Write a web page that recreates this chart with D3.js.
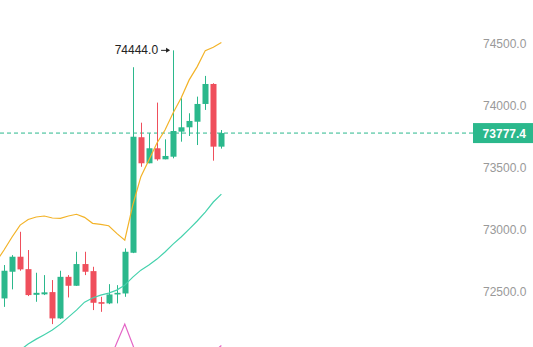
<!DOCTYPE html>
<html>
<head>
<meta charset="utf-8">
<script src="https://cdn.jsdelivr.net/npm/d3@7"></script>
<style>
    body { margin: 0; background: #fff; }
    svg { display: block; font-family: "Liberation Sans", Arial, sans-serif; }
</style>
</head>
<body>
<svg id="chart" width="533" height="347"></svg>
<script>
// first candle sits just left of the visible area
var candleIds = d3.range(0, 29).map(String);

var opens  = [72620, 72445, 72660, 72781, 72681, 72474, 72478, 72496, 72284, 72619, 72547, 72722, 72665, 72415, 72405,
              72477, 72485, 72813, 73744, 73534, 73655, 73566, 73587, 73789, 73824, 73869, 74012, 74173, 73668];
var highs  = [72680, 72714, 72794, 72982, 72835, 72652, 72633, 72593, 72668, 72633, 72821, 72821, 72700, 72458, 72560,
              72552, 72848, 74308, 73861, 73776, 74023, 73727, 74444, 74058, 73937, 74071, 74238, 74179, 73802];
var lows   = [72400, 72377, 72518, 72668, 72464, 72418, 72472, 72238, 72280, 72453, 72545, 72633, 72351, 72337, 72399,
              72405, 72458, 72810, 73506, 73534, 73555, 73566, 73574, 73708, 73754, 73681, 73964, 73555, 73652];
var closes = [72450, 72668, 72781, 72679, 72472, 72490, 72494, 72284, 72619, 72547, 72722, 72660, 72410, 72402, 72477,
              72490, 72821, 73748, 73534, 73655, 73566, 73593, 73794, 73824, 73875, 74012, 74173, 73668, 73777.4];

var upperBand = [72738, 72835, 72940, 73036, 73081, 73101, 73109, 73093, 73090, 73109, 73123, 73098, 73050, 73042, 73031,
                 72969, 72915, 73198, 73426, 73560, 73698, 73802, 73940, 74060, 74206, 74313, 74442, 74469, 74507];
var lowerBand = [71880, 71931, 71980, 72028, 72077, 72117, 72153, 72190, 72238, 72294, 72351, 72415, 72448, 72472, 72488,
                 72512, 72552, 72617, 72673, 72714, 72762, 72819, 72883, 72940, 73004, 73069, 73141, 73222, 73286];
var signal = [71720, 71700, 71760, 71820, 71750, 71690, 71740, 71800, 71860, 71790, 71720, 71780, 71840, 71880, 71931,
              72085, 72238, 72069, 71899, 71820, 71760, 71700, 71680, 71740, 71810, 71870, 71930, 72012, 72065];

var yTicks = [72500, 73000, 73500, 74000, 74500];
var lastPrice = 73777.4;
var highMark = 74444;

var upColor = "#2bb88c";
var downColor = "#ef4f5c";

var svg = d3.select("#chart");

var x = d3.scaleBand()
    .domain(candleIds)
    .range([-8.05, 225.4])
    .paddingInner(0.25)
    .paddingOuter(0.125);

var y = d3.scaleLinear()
    .domain([72500, 74500])
    .range([291.6, 43.4]);

var cx = function (d, i) { return x(candleIds[i]) + x.bandwidth() / 2; };

var candles = candleIds.map(function (id, i) {
    return { id: id, o: opens[i], h: highs[i], l: lows[i], c: closes[i] };
});

// last price dashed line
svg.append("line")
    .attr("x1", 0)
    .attr("x2", 473)
    .attr("y1", y(lastPrice))
    .attr("y2", y(lastPrice))
    .attr("stroke", upColor)
    .attr("stroke-width", 1)
    .attr("stroke-dasharray", "4,3");

// candles
var g = svg.append("g");
var candle = g.selectAll("g.candle")
    .data(candles)
    .join("g")
    .attr("class", "candle");

candle.append("line")
    .attr("x1", function (d, i) { return Math.round(cx(d, i)) + 0.5; })
    .attr("x2", function (d, i) { return Math.round(cx(d, i)) + 0.5; })
    .attr("y1", function (d) { return y(d.h); })
    .attr("y2", function (d) { return y(d.l); })
    .attr("stroke", function (d) { return d.c >= d.o ? upColor : downColor; })
    .attr("stroke-width", 1);

candle.append("rect")
    .attr("x", function (d, i) { return Math.round(cx(d, i)) + 0.5 - 3; })
    .attr("width", 6)
    .attr("y", function (d) { return y(Math.max(d.o, d.c)); })
    .attr("height", function (d) { return Math.max(1.5, Math.abs(y(d.o) - y(d.c))); })
    .attr("fill", function (d) { return d.c >= d.o ? upColor : downColor; });

// indicator lines
var line = function (values) {
    return d3.line()
        .x(function (d, i) { return cx(d, i); })
        .y(function (d) { return y(d); })(values);
};

svg.append("path")
    .attr("d", line(upperBand))
    .attr("fill", "none")
    .attr("stroke", "#f3b328")
    .attr("stroke-width", 1.2);

svg.append("path")
    .attr("d", line(lowerBand))
    .attr("fill", "none")
    .attr("stroke", "#45d2ad")
    .attr("stroke-width", 1.2);

svg.append("path")
    .attr("d", line(signal))
    .attr("fill", "none")
    .attr("stroke", "#e466c6")
    .attr("stroke-width", 1.2);

// price axis
var axis = svg.append("g")
    .attr("transform", "translate(474,0)")
    .call(d3.axisRight(y).tickValues(yTicks).tickSize(0).tickPadding(9).tickFormat(d3.format(".1f")));
axis.select(".domain").remove();
axis.selectAll("text")
    .attr("fill", "#999")
    .style("font-size", "12px")
    .style("font-family", "\"Liberation Sans\", Arial, sans-serif");

// last price label
svg.append("rect")
    .attr("x", 473)
    .attr("y", y(lastPrice) - 10)
    .attr("width", 60)
    .attr("height", 20)
    .attr("fill", upColor);
svg.append("text")
    .attr("x", 526)
    .attr("y", y(lastPrice) + 4.5)
    .attr("text-anchor", "end")
    .attr("fill", "#fff")
    .style("font-size", "12px")
    .style("font-weight", "bold")
    .text(d3.format(".1f")(lastPrice));

// high annotation
var hi = highs.indexOf(highMark);
var hx = cx(null, hi);
var hy = y(highMark);
svg.append("text")
    .attr("x", hx - 15)
    .attr("y", hy + 4)
    .attr("text-anchor", "end")
    .attr("fill", "#222")
    .style("font-size", "12px")
    .text(d3.format(".1f")(highMark));
svg.append("line")
    .attr("x1", hx - 12)
    .attr("x2", hx - 4)
    .attr("y1", hy)
    .attr("y2", hy)
    .attr("stroke", "#222")
    .attr("stroke-width", 1);
svg.append("path")
    .attr("d", "M" + (hx - 3) + "," + hy + "l-4,-2.5l0,5z")
    .attr("fill", "#222");
</script>
</body>
</html>
